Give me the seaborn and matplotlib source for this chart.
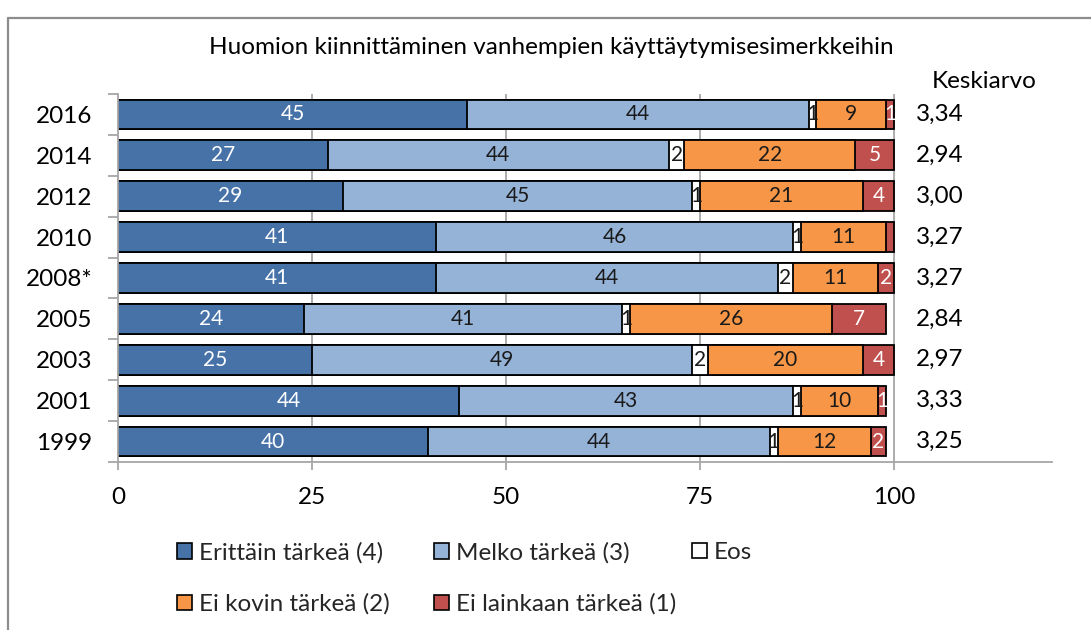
import numpy as np
import pandas as pd
import matplotlib
matplotlib.use("Agg")
import matplotlib.pyplot as plt
from matplotlib.lines import Line2D
from matplotlib.patches import Patch
import seaborn as sns

# Survey years (top to bottom) and answer shares in percent
years = ["2016", "2014", "2012", "2010", "2008*", "2005", "2003", "2001", "1999"]
erittain = [45, 27, 29, 41, 41, 24, 25, 44, 40]
melko = [44, 44, 45, 46, 44, 41, 49, 43, 44]
eos = [1, 2, 1, 1, 2, 1, 2, 1, 1]
ei_kovin = [9, 22, 21, 11, 11, 26, 20, 10, 12]
ei_lainkaan = [1, 5, 4, 1, 2, 7, 4, 1, 2]
# 2010 has no value label on its last segment
ei_lainkaan_shown = [True, True, True, False, True, True, True, True, True]
keskiarvo = [3.34, 2.94, 3.00, 3.27, 3.27, 2.84, 2.97, 3.33, 3.25]

series_names = ["Erittäin tärkeä (4)", "Melko tärkeä (3)", "Eos",
                "Ei kovin tärkeä (2)", "Ei lainkaan tärkeä (1)"]
series_values = [erittain, melko, eos, ei_kovin, ei_lainkaan]
colors = ["#4672A8", "#95B3D7", "#FFFFFF", "#F79646", "#C0504D"]
text_colors = ["white", "#1a1a1a", "#1a1a1a", "#1a1a1a", "white"]

sns.set_theme(style="white")
plt.rcParams["font.family"] = ["Lato", "DejaVu Sans"]

FS = 17.5

fig = plt.figure(figsize=(10.91, 6.30), dpi=100)
ax = fig.add_axes([118 / 1091, 1 - 462 / 630, (1052 - 118) / 1091, (462 - 94) / 630])

df = pd.DataFrame({"year": years})
vals = np.array(series_values, dtype=float)
cum = np.cumsum(vals, axis=0)

# Stacked bars: draw cumulative totals from the outermost segment inward
for i in range(len(series_names) - 1, -1, -1):
    df["v"] = cum[i]
    sns.barplot(data=df, x="v", y="year", orient="h", color=colors[i],
                saturation=1, width=0.73, edgecolor="black", linewidth=1.3,
                ax=ax, zorder=2)

# Segment value labels
for i, name in enumerate(series_names):
    for j in range(len(years)):
        v = vals[i, j]
        if i == 4 and not ei_lainkaan_shown[j]:
            continue
        x = cum[i, j] - v / 2
        ax.text(x, j, f"{int(v)}", ha="center", va="center",
                fontsize=15, color=text_colors[i], zorder=5)

# Mean column on the right
for j, m in enumerate(keskiarvo):
    ax.text(102.8, j, f"{m:.2f}".replace(".", ","), ha="left", va="center",
            fontsize=FS, color="black", clip_on=False)
ax.text(104.9, -0.8, "Keskiarvo", ha="left", va="center",
        fontsize=FS, color="black", clip_on=False)

xmax = 100 * (1052 - 118) / (894 - 118)
ax.set_xlim(0, xmax)
ax.set_ylim(len(years) - 0.5, -0.5)
ax.set_xticks([0, 25, 50, 75, 100])
ax.set_xticklabels(["0", "25", "50", "75", "100"])
ax.set_xlabel("")
ax.set_ylabel("")

grid_c = "#A6A6A6"
for gx in [25, 50, 75, 100]:
    ax.axvline(gx, color=grid_c, lw=1.3, zorder=0)

for s in ["top", "right"]:
    ax.spines[s].set_visible(False)
for s in ["left", "bottom"]:
    ax.spines[s].set_color(grid_c)
    ax.spines[s].set_linewidth(1.3)

ax.tick_params(axis="x", which="major", direction="out", length=6, width=1.3,
               color=grid_c, labelsize=FS, pad=12, labelcolor="black", bottom=True)
ax.tick_params(axis="y", which="major", length=0, labelsize=FS, pad=18.5,
               labelcolor="black", left=False)
ax.set_yticks(np.arange(-0.5, len(years) + 0.5, 1), minor=True)
ax.tick_params(axis="y", which="minor", direction="out", length=7, width=1.3,
               color=grid_c, left=True)

# Legend: equal-width slots, laid out row by row (3 + 2 entries)
handles = [Patch(facecolor=c, edgecolor="black", linewidth=1.2) for c in colors]
legend_columns = [[0, 3], [1, 4], [2]]
slot_x = [177, 434, 692]
for col, x0 in zip(legend_columns, slot_x):
    fig.legend([handles[k] for k in col], [series_names[k] for k in col],
               ncol=1, loc="upper left", bbox_to_anchor=(x0 / 1091, 1 - 542 / 630),
               frameon=False, fontsize=FS, handlelength=0.6, handleheight=0.6,
               handletextpad=0.3, labelspacing=1.23,
               borderaxespad=0, borderpad=0)

fig.text(551 / 1091, 1 - 47 / 630,
         "Huomion kiinnittäminen vanhempien käyttäytymisesimerkkeihin",
         ha="center", va="center", fontsize=FS, color="black")

# Outer frame (left and top edges)
fig.add_artist(Line2D([7.5 / 1091, 7.5 / 1091], [0, 1 - 17.5 / 630],
                      transform=fig.transFigure, color="#8C8C8C", lw=1.6))
fig.add_artist(Line2D([7.5 / 1091, 1], [1 - 17.5 / 630, 1 - 17.5 / 630],
                      transform=fig.transFigure, color="#8C8C8C", lw=1.6))

fig.savefig("out.png", dpi=100)
